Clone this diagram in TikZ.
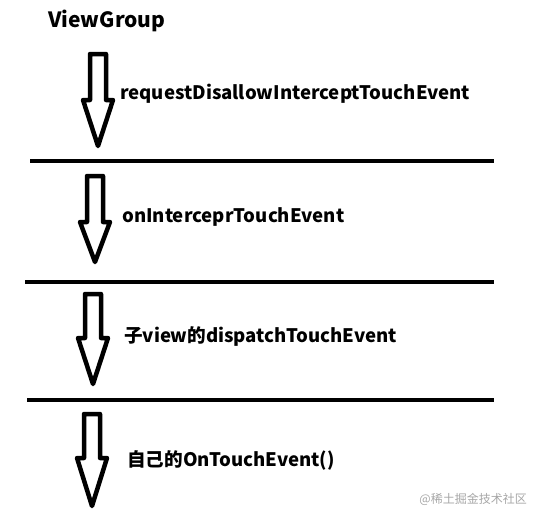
\documentclass[tikz,border=0pt]{standalone}
\usepackage{fontspec}
\setmainfont{Noto Sans CJK SC}
\usetikzlibrary{positioning}

\tikzset{
    label/.style={anchor=base west, inner sep=0pt, font=\bfseries\fontsize{18.6}{20}\selectfont},
    bar/.style={line width=4pt},
    hollow/.style={line width=4.5pt, line join=round}
}

\begin{document}
\begin{tikzpicture}[x=1pt, y=-1pt]
    \useasboundingbox (0,0) rectangle (536,520);
    % Title
    \node[label, font=\bfseries\fontsize{21}{22}\selectfont] (title) at (48,27) {ViewGroup};
    % Separators
    \foreach \i/\y/\xl in {1/161/30,2/282/25,3/400/27} {
        \coordinate (Sep-\i-l) at (\xl,\y);
        \coordinate (Sep-\i-r) at (494,\y);
        \draw[bar] (Sep-\i-l) -- (Sep-\i-r);
    }
    % Hollow arrows
    \foreach \i/\cx/\top/\head/\tip in {1/98/54/100/146,2/95/176/222/262,3/93/294/338/384,4/92/414/458/506} {
        \draw[hollow] (\cx-8,\top) -- (\cx+8,\top) -- (\cx+8,\head) -- (\cx+15,\head)
            -- (\cx,\tip) -- (\cx-15,\head) -- (\cx-8,\head) -- cycle;
    }
    % Labels
    \node[label] (step1) at (120,99) {requestDisallowInterceptTouchEvent};
    \node[label] (step2) at (122,222) {onInterceprTouchEvent};
    \node[label] (step3) at (124,342) {子view的dispatchTouchEvent};
    \node[label] (step4) at (127,466) {自己的OnTouchEvent()};
    % Watermark
    \node[anchor=base east, inner sep=0pt, text=gray!70, font=\fontsize{12}{13}\selectfont] (mark) at (527,503) {@稀土掘金技术社区};
\end{tikzpicture}
\end{document}
